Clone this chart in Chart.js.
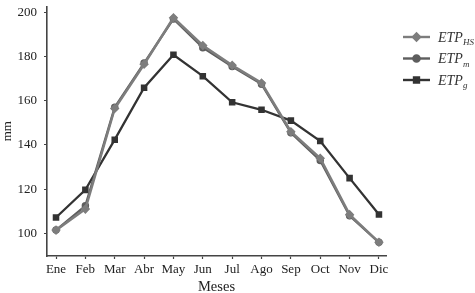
<!DOCTYPE html>
<html><head><meta charset="utf-8">
<script src="https://cdn.jsdelivr.net/npm/chart.js@4/dist/chart.umd.min.js"></script>
<style>html,body{margin:0;padding:0;background:#fff}#wrap{width:475px;height:293px}</style>
</head><body><div id="wrap"><canvas id="c" width="475" height="293"></canvas></div>
<script>
const months = ["Ene","Feb","Mar","Abr","May","Jun","Jul","Ago","Sep","Oct","Nov","Dic"];
const etpHS = [101.5, 111, 156.5, 176.5, 197.5, 185, 176, 168, 146, 134, 108.5, 96];
const etpM  = [101.5, 112.5, 157, 177, 197, 184, 175.5, 167.5, 145.5, 133, 108, 96];
const etpG  = [107.2, 119.7, 142.4, 165.9, 180.8, 171.1, 159.3, 155.9, 151, 141.8, 125, 108.6];
const yTicks = [100, 120, 140, 160, 180, 200];
const seriesNames = [["ETP","HS"],["ETP","m"],["ETP","g"]];

const FONT = "'Liberation Serif', serif";
const toPts = arr => arr.map((v,i)=>({x:i,y:v}));

const legendPlugin = {
  id:'subLegend',
  afterDraw(chart){
    const ctx = chart.ctx;
    chart.data.datasets.forEach((ds,i)=>{
      const y = 37 + i*21.5;
      const x0 = 403, x1 = 430;
      ctx.save();
      ctx.strokeStyle = ds.borderColor; ctx.lineWidth = 2.4;
      ctx.beginPath(); ctx.moveTo(x0,y); ctx.lineTo(x1,y); ctx.stroke();
      ctx.fillStyle = ds.borderColor; ctx.strokeStyle = ds.borderColor;
      Chart.helpers.drawPoint(ctx, {pointStyle: ds.pointStyle, radius: ds.pointRadius+0.5, borderWidth:1}, (x0+x1)/2, y);
      ctx.fillStyle = '#333';
      ctx.textBaseline = 'alphabetic';
      ctx.font = "italic 14px " + FONT;
      const [main, sub] = seriesNames[i];
      ctx.fillText(main, 438, y+4.5);
      const w = ctx.measureText(main).width;
      ctx.font = "italic 9px " + FONT;
      ctx.fillText(sub, 438 + w, y+8);
      ctx.restore();
    });
  }
};

new Chart(document.getElementById('c'), {
  type:'line',
  data:{datasets:[
    {label:'ETP_HS', data: toPts(etpHS), borderColor:'#7d7d7d', backgroundColor:'#7d7d7d', pointStyle:'rectRot', pointRadius:3, borderWidth:2.5},
    {label:'ETP_m', data: toPts(etpM), borderColor:'#5e5e5e', backgroundColor:'#5e5e5e', pointStyle:'circle', pointRadius:2.6, borderWidth:2.3},
    {label:'ETP_g', data: toPts(etpG), borderColor:'#333333', backgroundColor:'#333333', pointStyle:'rect', pointRadius:3, borderWidth:2.3}
  ]},
  options:{
    responsive:false, animation:false, devicePixelRatio:1,
    layout:{padding:{left:0, right:89, top:0, bottom:0}},
    plugins:{legend:{display:false}, tooltip:{enabled:false}},
    elements:{line:{tension:0}},
    scales:{
      x:{type:'linear', min:-0.307, max:11.24,
        afterBuildTicks(s){ s.ticks = months.map((m,i)=>({value:i})); },
        afterFit(s){ s.height = 37; s.paddingLeft = 0; s.paddingRight = 0; },
        ticks:{autoSkip:false, maxRotation:0, color:'#222', padding:3, font:{family:FONT, size:13},
          callback:(v)=>months[v]},
        grid:{drawOnChartArea:false, drawTicks:true, tickLength:3, tickColor:'#444', tickWidth:1.2},
        border:{display:true, color:'#444', width:1.6},
        title:{display:true, text:'Meses', color:'#222', font:{family:FONT, size:14.5}, padding:{top:0,bottom:-3}}
      },
      y:{type:'linear', min:89.8, max:202.6,
        afterBuildTicks(s){ s.ticks = yTicks.map(v=>({value:v})); },
        afterFit(s){ s.width = 47; s.paddingTop = 0; s.paddingBottom = 0; },
        ticks:{color:'#222', padding:7, font:{family:FONT, size:13}},
        grid:{drawOnChartArea:false, drawTicks:true, tickLength:3, tickColor:'#444', tickWidth:1.2},
        border:{display:true, color:'#444', width:1.6},
        title:{display:true, text:'mm', color:'#222', font:{family:FONT, size:13}, padding:{top:0,bottom:0}}
      }
    }
  },
  plugins:[legendPlugin]
});
</script></body></html>
